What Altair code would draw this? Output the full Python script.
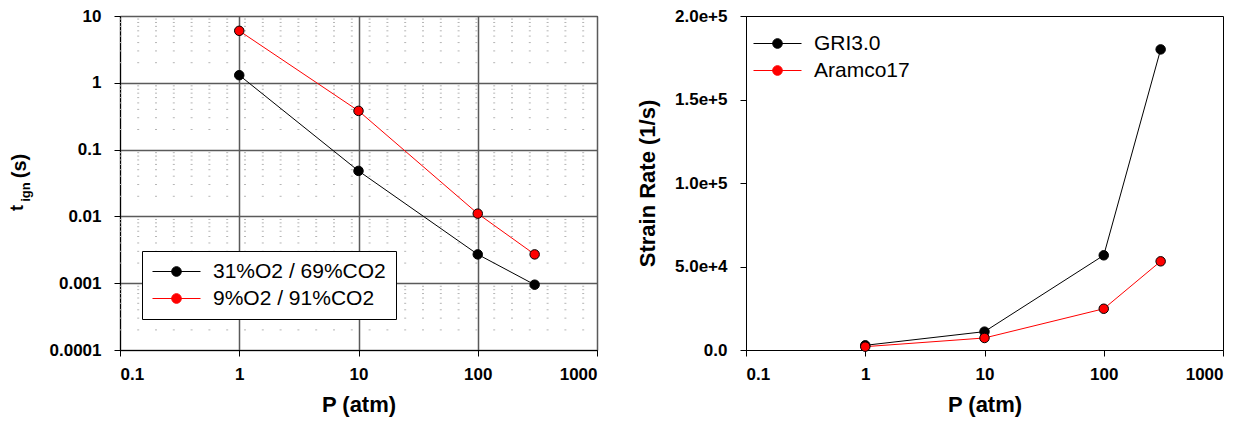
import altair as alt
import pandas as pd

# ---------------- data ----------------
pressure = [1, 10, 100, 300]

left_series = ["31%O2 / 69%CO2", "9%O2 / 91%CO2"]
tign_31 = [1.3, 0.048, 0.0027, 0.00095]
tign_9 = [6.0, 0.38, 0.011, 0.0027]

right_series = ["GRI3.0", "Aramco17"]
strain_gri = [2800, 11000, 56700, 180000]
strain_aramco = [2000, 7200, 24700, 53100]

x_ticks = [0.1, 1, 10, 100, 1000]
y_ticks_left = [0.0001, 0.001, 0.01, 0.1, 1, 10]
y_minor_left = [k * 10.0 ** e for e in range(-4, 1) for k in range(2, 10)]
y_ticks_right = [0, 50000, 100000, 150000, 200000]

series_colors = ["black", "red"]

left_df = pd.DataFrame({
    "P": pressure * 2,
    "t": tign_31 + tign_9,
    "series": [left_series[0]] * 4 + [left_series[1]] * 4,
})
right_df = pd.DataFrame({
    "P": pressure * 2,
    "s": strain_gri + strain_aramco,
    "series": [right_series[0]] * 4 + [right_series[1]] * 4,
})
minor_df = pd.DataFrame({"y": y_minor_left})

FONT = "Liberation Sans"
W, H = 477, 334

# legend symbol: a 48px line with a dot in its middle (unit = 10px)
LEG_PATH = ("M-1,0H3.8M0.92,0A0.48,0.48,0,1,1,1.88,0"
            "A0.48,0.48,0,1,1,0.92,0Z")


def legend(x, y, boxed):
    kw = dict(
        title=None, orient="none", legendX=x, legendY=y,
        symbolType=LEG_PATH, symbolSize=400, symbolStrokeWidth=1,
        labelFont=FONT, labelFontSize=21, labelOffset=40, labelLimit=0,
        labelColor="black", rowPadding=5,
    )
    if boxed:
        kw.update(strokeColor="black", fillColor="white", padding=10)
    else:
        kw.update(padding=0, rowPadding=5)
    return alt.Legend(**kw)


x_scale = alt.Scale(type="log", domain=[0.1, 1000])

# ---------------- left panel ----------------
xl = alt.X("P:Q", scale=x_scale, title="P (atm)",
           axis=alt.Axis(values=x_ticks, labelExpr="format(datum.value, '~g')",
                         grid=True, gridColor="#5a5a5a", gridWidth=1.5))
yl = alt.Y("t:Q", scale=alt.Scale(type="log", domain=[0.0001, 10]), title=None,
           axis=alt.Axis(values=y_ticks_left, labelExpr="format(datum.value, '~g')",
                         grid=True, gridColor="#5a5a5a", gridWidth=1.5))

minor = alt.Chart(minor_df).mark_rule(
    color="#b5b5b5", strokeWidth=1, strokeDash=[2, 15.8], strokeDashOffset=5
).encode(y=alt.Y("y:Q", scale=alt.Scale(type="log", domain=[0.0001, 10])))

left_leg = legend(22, 235, True)
l_line = alt.Chart(left_df).mark_line(strokeWidth=1).encode(
    x=xl, y=yl,
    stroke=alt.Stroke("series:N", scale=alt.Scale(domain=left_series, range=series_colors),
                      legend=left_leg),
)
l_pts = alt.Chart(left_df).mark_point(filled=True, size=90, stroke="black",
                                      strokeWidth=1, opacity=1).encode(
    x=xl, y=yl,
    fill=alt.Fill("series:N", scale=alt.Scale(domain=left_series, range=series_colors),
                  legend=left_leg),
)

title_df = pd.DataFrame({"a": ["t"], "b": ["ign"], "c": ["(s)"]})
t_main = alt.Chart(title_df).mark_text(
    angle=270, font=FONT, fontWeight="bold", fontSize=18, align="center",
    baseline="alphabetic", color="black"
).encode(text="a:N", x=alt.value(-97), y=alt.value(192))
t_sub = alt.Chart(title_df).mark_text(
    angle=270, font=FONT, fontWeight="bold", fontSize=13, align="center",
    baseline="alphabetic", color="black"
).encode(text="b:N", x=alt.value(-90), y=alt.value(176))
t_unit = alt.Chart(title_df).mark_text(
    angle=270, font=FONT, fontWeight="bold", fontSize=20, align="center",
    baseline="alphabetic", color="black"
).encode(text="c:N", x=alt.value(-94), y=alt.value(150))

left = alt.layer(minor, l_line, l_pts, t_main, t_sub, t_unit).properties(width=W, height=H)

# ---------------- right panel ----------------
xr = alt.X("P:Q", scale=x_scale, title="P (atm)",
           axis=alt.Axis(values=x_ticks, labelExpr="format(datum.value, '~g')", grid=False))
yr = alt.Y("s:Q", scale=alt.Scale(domain=[0, 200000], nice=False), title="Strain Rate (1/s)",
           axis=alt.Axis(values=y_ticks_right,
                         labelExpr="datum.value == 0 ? '0.0' : format(datum.value, '.1e')",
                         grid=False, titlePadding=15))

right_leg = legend(7, 17, False)
r_line = alt.Chart(right_df).mark_line(strokeWidth=1).encode(
    x=xr, y=yr,
    stroke=alt.Stroke("series:N", scale=alt.Scale(domain=right_series, range=series_colors),
                      legend=right_leg),
)
r_pts = alt.Chart(right_df).mark_point(filled=True, size=90, stroke="black",
                                       strokeWidth=1, opacity=1).encode(
    x=xr, y=yr,
    fill=alt.Fill("series:N", scale=alt.Scale(domain=right_series, range=series_colors),
                  legend=right_leg),
)
right = alt.layer(r_line, r_pts).properties(width=W, height=H)

chart = alt.hconcat(left, right, spacing=149, bounds="flush").resolve_scale(
    fill="independent", stroke="independent"
).properties(
    padding={"left": 8, "top": 6, "right": 5, "bottom": 5}
).configure_view(
    stroke="black", strokeWidth=1
).configure_axis(
    labelFont=FONT, labelFontSize=17, labelFontWeight="bold", labelColor="black",
    titleFont=FONT, titleFontSize=22, titleFontWeight="bold", titleColor="black",
    tickSize=6, tickColor="black", domainColor="black", labelPadding=8,
    titlePadding=12,
).configure_axisX(
    labelPadding=10, titlePadding=12,
).configure_axisY(
    labelPadding=13,
)

chart.save("out.html", embed_options={"renderer": "svg", "actions": False})
